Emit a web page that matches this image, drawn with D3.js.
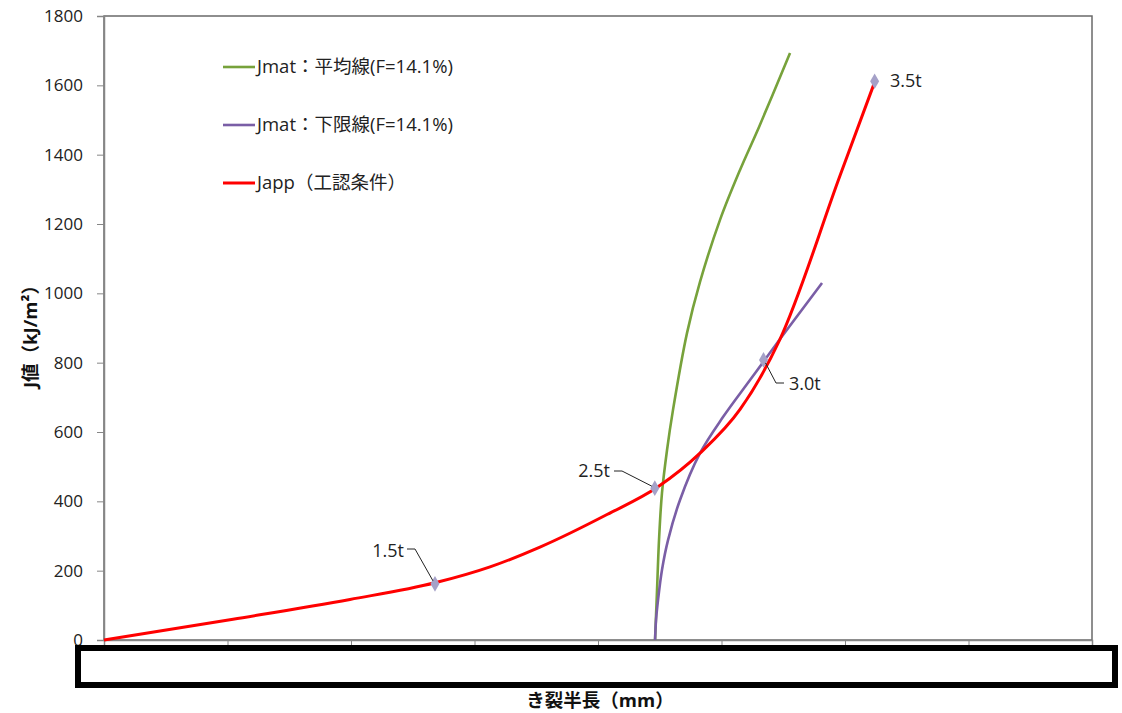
<!DOCTYPE html>
<html><head><meta charset="utf-8">
<script src="https://cdn.jsdelivr.net/npm/d3@7/dist/d3.min.js"></script>
<style>
body{margin:0;background:#fff;}
text{font-family:"Open Sans","Noto Sans CJK JP",sans-serif;}
</style></head>
<body><svg id="c" width="1122" height="713"></svg>
<script>
// ---- data ----
const yTicks = [0,200,400,600,800,1000,1200,1400,1600,1800];
const xTicks = [0,10,20,30,40,50,60,70,80];
const seriesNames = ["Jmat：平均線(F=14.1%)","Jmat：下限線(F=14.1%)","Japp（工認条件）"];
const jmatMeanX = [44.62,44.70,44.78,44.94,45.18,45.59,46.07,47.21,48.26,49.88,51.50,53.04,55.55];
const jmatMeanY = [0,72,144,288,424,548,663,886,1033,1212,1356,1480,1693];
const jmatLowX = [44.62,44.70,44.86,45.18,45.67,46.64,48.26,50.12,52.31,54.74,58.14];
const jmatLowY = [0,58,115,202,288,404,539,643,750,868,1030];
const jappX = [0,10.45,19.92,26.80,31.26,35.30,40.73,44.86,48.26,51.50,54.74,59.60,62.43];
const jappY = [0,60,117,165,211,268,362,442,539,665,868,1340,1612];
const markLabels = ["1.5t","2.5t","3.0t","3.5t"];
const markX = [26.8,44.6,53.4,62.4];
const markY = [162,438,808,1612];

// ---- layout ----
const svg = d3.select("#c");
const L=104, R=1092, T=16, B=640;
const x = d3.scaleLinear().domain([0,80]).range([L,R]);
const y = d3.scaleLinear().domain([0,1800]).range([B,T]);
const axisCol = "#868686";

// plot border
svg.append("rect").attr("x",L).attr("y",T).attr("width",R-L).attr("height",B-T)
  .attr("fill","none").attr("stroke","#6a6a6a").attr("stroke-width",1.5);

// y axis
const ya = svg.append("g").attr("transform",`translate(${L},0)`)
  .call(d3.axisLeft(y).tickValues(yTicks).tickSize(7).tickPadding(14).tickFormat(d3.format("d")));
ya.select(".domain").attr("stroke",axisCol).attr("stroke-width",1.5);
ya.selectAll(".tick line").attr("stroke",axisCol);
ya.selectAll(".tick text").attr("font-size",17).attr("fill","#222")
  .style("font-family","'Open Sans',sans-serif");

// x axis (labels hidden by the box)
const xa = svg.append("g").attr("transform",`translate(0,${B})`)
  .call(d3.axisBottom(x).tickValues(xTicks).tickSize(6).tickFormat(""));
xa.select(".domain").attr("stroke",axisCol).attr("stroke-width",1.5);
xa.selectAll(".tick line").attr("stroke",axisCol);

// lines
const mk = (xs,ys)=>xs.map((v,i)=>[v,ys[i]]);
const line = d3.line().x(d=>x(d[0])).y(d=>y(d[1])).curve(d3.curveCatmullRom.alpha(0.5));
const lineM = d3.line().x(d=>x(d[0])).y(d=>y(d[1])).curve(d3.curveMonotoneX);
svg.append("path").datum(mk(jmatMeanX,jmatMeanY)).attr("d",line)
  .attr("fill","none").attr("stroke","#77a23b").attr("stroke-width",2.6);
svg.append("path").datum(mk(jmatLowX,jmatLowY)).attr("d",line)
  .attr("fill","none").attr("stroke","#7a5ea6").attr("stroke-width",2.6);
svg.append("path").datum(mk(jappX,jappY)).attr("d",lineM)
  .attr("fill","none").attr("stroke","#ff0000").attr("stroke-width",3);

// markers
const sym = d3.symbol().type(d3.symbolDiamond).size(70);
markX.forEach((mx,i)=>{
  svg.append("path").attr("d",sym).attr("transform",`translate(${x(mx)},${y(markY[i])})`)
    .attr("fill","#a5a1c8");
});

// marker labels + leaders
const lab = (t,tx,ty,anchor)=>svg.append("text").attr("x",tx).attr("y",ty).attr("text-anchor",anchor)
  .attr("font-size",18).attr("fill","#222").text(t);
const lead = pts=>svg.append("path").attr("d",d3.line()(pts)).attr("fill","none").attr("stroke","#222").attr("stroke-width",1);
// 1.5t
lab(markLabels[0],404,557,"end");
lead([[407,549],[415,549],[x(markX[0])-2,y(markY[0])-3]]);
// 2.5t
lab(markLabels[1],610,477,"end");
lead([[614,471],[622,471],[x(markX[1])-3,y(markY[1])-2]]);
// 3.0t
lab(markLabels[2],789,390,"start");
lead([[x(markX[2])+2,y(markY[2])+3],[776,383],[784,383]]);
// 3.5t
lab(markLabels[3],890,87,"start");

// legend
const legCols = ["#77a23b","#7a5ea6","#ff0000"];
const legY = [67,125,183];
seriesNames.forEach((n,i)=>{
  svg.append("line").attr("x1",223).attr("x2",255).attr("y1",legY[i]).attr("y2",legY[i])
    .attr("stroke",legCols[i]).attr("stroke-width",i==2?3:2.6);
  svg.append("text").attr("x",257).attr("y",legY[i]+6).attr("font-size",18.5).attr("fill","#222").text(n);
});

// axis titles
svg.append("text").attr("transform",`translate(37,${(T+B)/2+4}) rotate(-90)`).attr("text-anchor","middle")
  .attr("font-size",18.5).attr("font-weight","bold").attr("fill","#111").text("J値（kJ/m²）");
svg.append("text").attr("x",600).attr("y",707).attr("text-anchor","middle")
  .attr("font-size",18.5).attr("font-weight","bold").attr("fill","#111").text("き裂半長（mm）");

// black box covering x tick labels
svg.append("rect").attr("x",78).attr("y",648).attr("width",1037).attr("height",37)
  .attr("fill","#fff").attr("stroke","#000").attr("stroke-width",6);
</script></body></html>
